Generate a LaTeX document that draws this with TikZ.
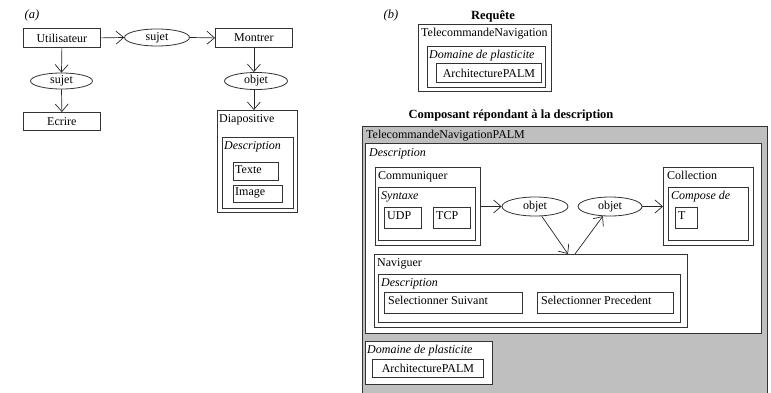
\documentclass[tikz,border=0pt]{standalone}
\usepackage{fontspec}
\setmainfont{Liberation Serif}
\usetikzlibrary{arrows.meta,shapes.geometric}
\begin{document}
\begin{tikzpicture}[x=1pt,y=-1pt,
  every node/.style={font=\fontsize{12}{14}\selectfont, inner sep=0pt},
  bx/.style={draw=black!80, line width=0.8pt, fill=white, rectangle, anchor=north west},
  ell/.style={draw=black!80, line width=0.8pt, fill=white, ellipse},
  lbl/.style={anchor=north west},
  ilbl/.style={anchor=north west, font=\fontsize{12}{14}\selectfont\itshape},
  ttl/.style={font=\fontsize{12.5}{14}\selectfont\bfseries},
  arr/.style={draw=black!85, line width=0.7pt, -{Straight Barb[length=7.5pt,width=13pt]}}
]
\useasboundingbox (0,0) rectangle (771,393);
% ---------- (a)
\node[font=\fontsize{12.5}{14}\selectfont\itshape] (la) at (32,15) {(a)};
\node[bx, minimum width=77pt, minimum height=19pt] (util) at (23,28) {};
\node (utilt) at (util.center) {Utilisateur};
\node[bx, minimum width=77pt, minimum height=19pt] (montrer) at (215,28) {};
\node (montrert) at (montrer.center) {Montrer};
\node[ell, minimum width=65pt, minimum height=17pt] (sujet1) at (157,37.5) {sujet};
\node[ell, minimum width=62pt, minimum height=16pt] (sujet2) at (61.5,81) {sujet};
\node[bx, minimum width=77pt, minimum height=18pt] (ecrire) at (23,112) {};
\node (ecriret) at (ecrire.center) {Ecrire};
\node[ell, minimum width=63pt, minimum height=17pt] (objeta) at (256,81) {objet};
\node[bx, minimum width=80pt, minimum height=102pt] (diapo) at (217,110) {};
\node[lbl] (diapot) at (219,114) {Diapositive};
\node[bx, minimum width=71pt, minimum height=71pt] (desca) at (222,137) {};
\node[ilbl] (descat) at (224,141) {Description};
\node[bx, minimum width=45pt, minimum height=18pt] (texte) at (233,162) {};
\node[lbl] (textet) at (235,165) {Texte};
\node[bx, minimum width=49pt, minimum height=17pt] (image) at (233,185) {};
\node[lbl] (imaget) at (235,187.5) {Image};
\draw[arr] (util.east) -- (sujet1.west);
\draw[arr] (sujet1.east) -- (montrer.west);
\draw[arr] (util.south) -- (sujet2.north);
\draw[arr] (sujet2.south) -- (ecrire.north);
\draw[arr] (montrer.south) -- (montrer.south |- objeta.north);
\draw[arr] (montrer.south |- objeta.south) -- (montrer.south |- diapo.north);
% ---------- (b)
\node[font=\fontsize{12.5}{14}\selectfont\itshape] (lb) at (391,15) {(b)};
\node[ttl] (req) at (493,16) {Requête};
\node[bx, minimum width=133pt, minimum height=67pt] (reqb) at (418,24) {};
\node[lbl] (reqbt) at (421,28) {TelecommandeNavigation};
\node[bx, minimum width=118pt, minimum height=41pt] (dom1) at (427,46) {};
\node[ilbl] (dom1t) at (429,50) {Domaine de plasticite};
\node[bx, minimum width=105pt, minimum height=19pt] (arch1) at (436,63) {};
\node (arch1t) at (arch1.center) {ArchitecturePALM};
\node[ttl] (comp) at (511,115) {Composant répondant à la description};
\node[bx, fill=black!25, minimum width=405pt, minimum height=268pt] (gray) at (362,126) {};
\node[lbl] (grayt) at (366,130) {TelecommandeNavigationPALM};
\node[bx, minimum width=396pt, minimum height=190pt] (descb) at (365,143) {};
\node[ilbl] (descbt) at (369,148) {Description};
\node[bx, minimum width=105pt, minimum height=78pt] (comm) at (375,167) {};
\node[lbl] (commt) at (378,171) {Communiquer};
\node[bx, minimum width=97pt, minimum height=53pt] (synt) at (378,187) {};
\node[ilbl] (syntt) at (381,191) {Syntaxe};
\node[bx, minimum width=37pt, minimum height=21pt] (udp) at (384,207) {};
\node[lbl] (udpt) at (387,211) {UDP};
\node[bx, minimum width=37pt, minimum height=21pt] (tcp) at (433,207) {};
\node[lbl] (tcpt) at (436,211) {TCP};
\node[ell, minimum width=66pt, minimum height=19pt] (obj1) at (535,206.5) {objet};
\node[ell, minimum width=64pt, minimum height=19pt] (obj2) at (610,206.5) {objet};
\node[bx, minimum width=90pt, minimum height=78pt] (coll) at (663,167) {};
\node[lbl] (collt) at (667,171) {Collection};
\node[bx, minimum width=80pt, minimum height=53pt] (compo) at (668,187) {};
\node[ilbl] (compot) at (671,191) {Compose de};
\node[bx, minimum width=22pt, minimum height=21pt] (tb) at (675,207) {};
\node[lbl] (tbt) at (678,211) {T};
\node[bx, minimum width=313pt, minimum height=73pt] (nav) at (374,254) {};
\node[lbl] (navt) at (377,258) {Naviguer};
\node[bx, minimum width=302pt, minimum height=48pt] (descn) at (378,274) {};
\node[ilbl] (descnt) at (381,278) {Description};
\node[bx, minimum width=138pt, minimum height=21pt] (sels) at (384,292) {};
\node[lbl] (selst) at (388,296) {Selectionner Suivant};
\node[bx, minimum width=136pt, minimum height=21pt] (selp) at (537,292) {};
\node[lbl] (selpt) at (541,296) {Selectionner Precedent};
\node[bx, minimum width=127pt, minimum height=43pt] (domb) at (365,341) {};
\node[ilbl] (dombt) at (367,345) {Domaine de plasticite};
\node[bx, minimum width=111pt, minimum height=18pt] (archb) at (372,359) {};
\node (archbt) at (archb.center) {ArchitecturePALM};
\coordinate (navin) at (568,254);
\coordinate (navout) at (575,254);
\draw[arr] (obj1.west -| comm.east) -- (obj1.west);
\draw[arr] (obj1) -- (navin);
\draw[arr] (navout) -- (obj2);
\draw[arr] (obj2.east) -- (obj2.east -| coll.west);
\end{tikzpicture}
\end{document}
